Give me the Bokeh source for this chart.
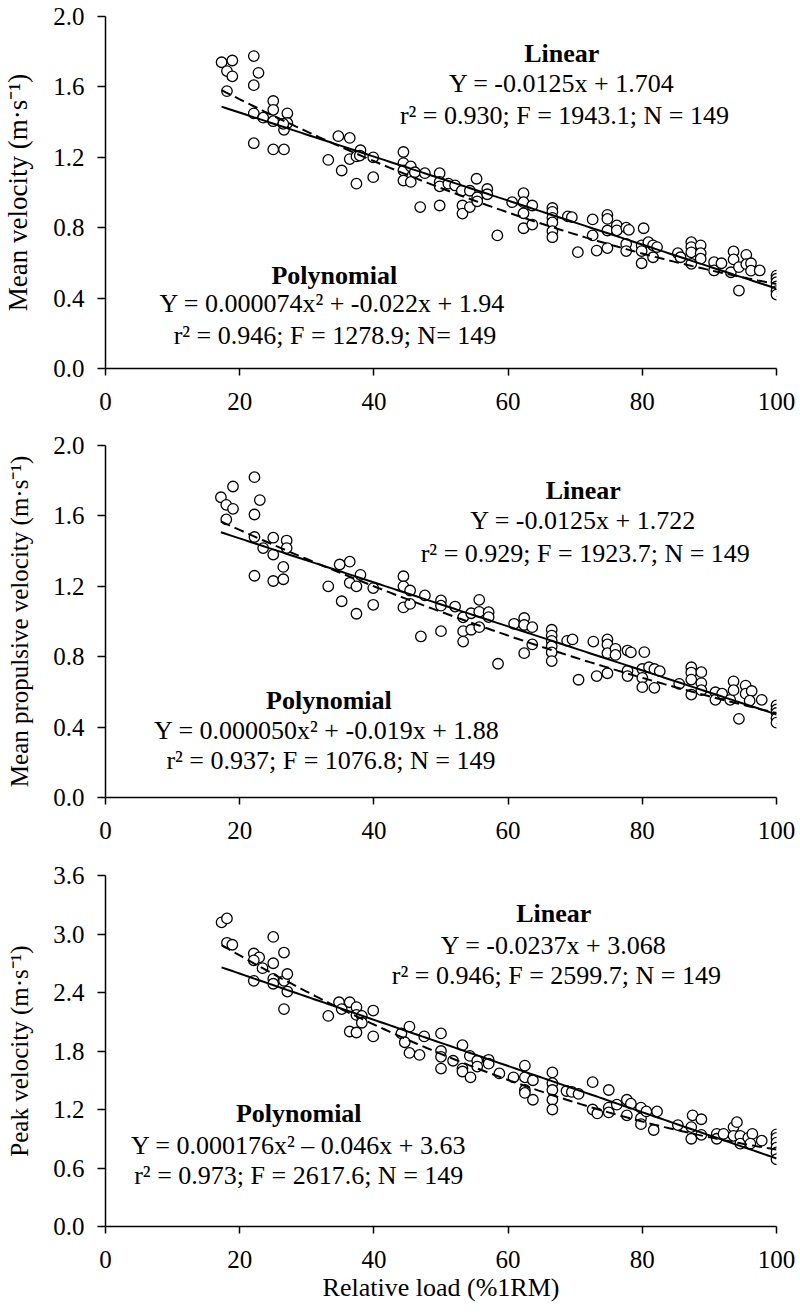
import numpy as np
from bokeh.plotting import figure
from bokeh.layouts import column
from bokeh.models import Range1d, FixedTicker, PrintfTickFormatter
from bokeh.core.properties import value
from bokeh.embed import file_html
from bokeh.resources import INLINE

FONT = "Liberation Serif"

# ---------------- data ----------------
x_ticks = [0, 20, 40, 60, 80, 100]

# Panel 1: mean velocity
mv_x = [17.3, 18.9, 18.1, 18.9, 22.1, 22.8, 22.1, 18.1, 25.0, 22.1, 23.5, 25.0, 25.0, 27.1, 27.1, 26.6, 26.5,
        22.1, 25.0, 26.6,
        33.2, 34.7, 36.4, 35.2, 36.4, 37.4, 37.4, 38.0, 37.9, 39.9, 39.9,
        44.4, 44.4, 44.4, 44.4, 45.5, 45.5, 46.1, 47.6, 46.9, 49.8, 49.8, 49.8, 49.8, 51.1, 52.1, 53.1, 53.2, 53.2,
        54.3, 54.3, 55.3, 55.4, 55.4, 56.9, 56.9, 58.4,
        60.6, 62.3, 62.3, 62.3, 63.6, 62.3, 63.6, 66.6, 66.6, 66.6, 66.6, 66.6, 66.6, 68.9, 69.5, 70.4, 72.6, 72.6,
        73.2, 74.8, 74.8, 74.8, 74.8, 76.2, 76.2, 77.6, 78.0, 77.6, 77.6, 80.2, 79.9, 79.9, 79.9, 80.9, 81.6, 81.6,
        82.2, 85.3, 85.7, 87.3, 87.3, 87.3, 87.3, 88.7, 88.7, 88.7, 90.7, 90.7, 91.8, 93.2, 93.6, 93.6, 94.4, 94.4,
        95.5, 95.5, 96.2, 96.2, 97.5, 100, 100, 100, 100, 100, 100]
mv_y = [1.74, 1.75, 1.69, 1.66, 1.775, 1.68, 1.61, 1.576, 1.52, 1.45, 1.425, 1.47, 1.405, 1.45, 1.395, 1.356, 1.39,
        1.28, 1.245, 1.245,
        1.185, 1.32, 1.31, 1.125, 1.19, 1.05, 1.205, 1.24, 1.21, 1.20, 1.087,
        1.23, 1.167, 1.125, 1.068, 1.06, 1.148, 1.115, 1.11, 0.917, 1.11, 1.06, 1.035, 0.926, 1.05, 1.04, 1.01, 0.926, 0.88,
        1.01, 0.917, 1.078, 0.973, 0.95, 1.02, 0.99, 0.756,
        0.945, 0.996, 0.945, 0.882, 0.926, 0.797, 0.818, 0.912, 0.89, 0.856, 0.83, 0.78, 0.746, 0.864, 0.86, 0.661, 0.847, 0.756,
        0.67, 0.873, 0.85, 0.784, 0.684, 0.813, 0.785, 0.80, 0.788, 0.708, 0.667, 0.797, 0.70, 0.667, 0.598, 0.718, 0.70, 0.632,
        0.69, 0.655, 0.632, 0.718, 0.69, 0.66, 0.595, 0.70, 0.655, 0.624, 0.604, 0.557, 0.598, 0.547, 0.665, 0.62, 0.576, 0.443,
        0.646, 0.593, 0.598, 0.556, 0.557, 0.528, 0.51, 0.49, 0.466, 0.44, 0.42]

# Panel 2: mean propulsive velocity
mpv_x = [17.2, 19.0, 18.0, 19.0, 18.0, 22.2, 23.0, 22.2, 22.2, 25.0, 27.0, 23.5, 25.0, 27.0, 26.5, 22.2, 25.0, 26.5,
         33.2, 34.9, 36.4, 35.2, 36.4, 37.4, 37.4, 38.0, 39.9, 39.9,
         44.4, 44.4, 44.4, 45.4, 45.4, 47.6, 47.0, 50.0, 50.0, 50.0, 52.1, 53.3, 53.3, 53.3, 54.5, 54.5, 55.7, 55.7,
         55.7, 57.1, 57.1, 58.5,
         60.9, 62.4, 62.4, 63.6, 62.4, 63.6, 66.5, 66.5, 66.5, 66.5, 66.5, 66.5, 68.8, 69.6, 70.5, 72.7, 73.2, 74.8,
         74.8, 74.8, 74.8, 76.0, 76.0, 77.8, 78.3, 77.8, 77.8, 80.3, 80.0, 80.0, 80.0, 81.0, 81.8, 81.8, 82.6, 85.5,
         87.3, 87.3, 87.3, 87.3, 88.8, 88.8, 88.8, 90.9, 90.9, 91.9, 93.1, 93.6, 93.6, 94.4, 95.4, 95.4, 96.3, 96.0,
         97.8, 100, 100, 100, 100, 100]
mpv_y = [1.706, 1.767, 1.663, 1.64, 1.58, 1.82, 1.69, 1.608, 1.48, 1.476, 1.46, 1.417, 1.38, 1.417, 1.31, 1.26, 1.23, 1.24,
         1.20, 1.324, 1.34, 1.115, 1.22, 1.20, 1.044, 1.265, 1.19, 1.095,
         1.257, 1.20, 1.08, 1.176, 1.10, 1.148, 0.915, 1.12, 1.09, 0.945, 1.085, 1.024, 0.945, 0.886, 1.047, 0.953, 1.123, 1.055,
         0.968, 1.053, 1.025, 0.76,
         0.987, 1.02, 0.98, 0.968, 0.82, 0.87, 0.953, 0.92, 0.89, 0.86, 0.825, 0.775, 0.89, 0.898, 0.669, 0.886, 0.69, 0.898,
         0.87, 0.82, 0.706, 0.845, 0.81, 0.835, 0.825, 0.72, 0.69, 0.826, 0.73, 0.68, 0.627, 0.74, 0.73, 0.623, 0.718, 0.646,
         0.74, 0.71, 0.67, 0.585, 0.712, 0.65, 0.61, 0.598, 0.555, 0.59, 0.555, 0.66, 0.61, 0.447, 0.636, 0.59, 0.605, 0.55,
         0.555, 0.523, 0.50, 0.48, 0.45, 0.425]

# Panel 3: peak velocity
pv_x = [17.3, 18.1, 18.1, 18.9, 25.0, 22.1, 22.9, 22.1, 23.4, 25.0, 26.6, 22.1, 25.0, 25.0, 26.6, 27.1, 27.1, 26.6,
        33.2, 34.8, 35.2, 36.4, 37.4, 37.4, 38.2, 38.2, 36.4, 37.4, 39.9, 39.9,
        44.1, 44.6, 45.3, 45.3, 46.8, 47.5, 50.0, 50.0, 50.0, 50.0, 51.8, 53.2, 53.2, 53.2, 54.4, 54.3, 55.4, 55.4,
        57.1, 57.1, 58.7,
        60.8, 62.5, 62.5, 62.5, 62.5, 63.7, 63.7, 66.6, 66.6, 66.6, 66.6, 66.6, 68.7, 69.5, 70.5, 72.6, 72.6, 73.3,
        75.0, 75.0, 75.0, 76.2, 77.7, 77.7, 78.3, 79.8, 79.8, 79.8, 80.6, 81.7, 82.2, 85.3, 87.5, 87.3, 87.3, 88.8,
        88.8, 91.1, 91.1, 92.1, 93.6, 94.1, 93.6, 94.6, 94.6, 95.8, 96.4, 96.1, 97.8, 100, 100, 100, 100, 100, 100]
pv_y = [3.12, 3.16, 2.91, 2.89, 2.97, 2.80, 2.76, 2.73, 2.65, 2.70, 2.81, 2.52, 2.54, 2.49, 2.52, 2.59, 2.41, 2.23,
        2.16, 2.30, 2.23, 2.30, 2.25, 2.17, 2.16, 2.09, 2.00, 1.99, 2.215, 1.95,
        1.98, 1.89, 2.05, 1.78, 1.76, 1.95, 1.98, 1.80, 1.74, 1.62, 1.70, 1.86, 1.62, 1.59, 1.53, 1.75, 1.70, 1.64,
        1.71, 1.67, 1.57,
        1.53, 1.65, 1.53, 1.40, 1.37, 1.50, 1.30, 1.58, 1.47, 1.40, 1.30, 1.20, 1.39, 1.38, 1.36, 1.48, 1.20, 1.16,
        1.40, 1.22, 1.17, 1.25, 1.30, 1.14, 1.26, 1.22, 1.11, 1.05, 1.18, 0.99, 1.18, 1.04, 1.14, 1.02, 0.90, 1.10,
        0.94, 0.95, 0.90, 0.95, 1.02, 1.07, 0.93, 0.93, 0.85, 0.91, 0.95, 0.85, 0.88, 0.945, 0.91, 0.86, 0.81, 0.76, 0.69]

# Fitted equations (coefficients shown on the chart)
mv_lin, mv_poly = (-0.0125, 1.704), (0.000074, -0.022, 1.94)
mpv_lin, mpv_poly = (-0.0125, 1.722), (0.000050, -0.019, 1.88)
pv_lin, pv_poly = (-0.0237, 3.068), (0.000176, -0.046, 3.63)

mv_texts = ["Linear", "Y = -0.0125x + 1.704", "r² = 0.930; F = 1943.1; N = 149",
            "Polynomial", "Y = 0.000074x² + -0.022x + 1.94", "r² = 0.946; F = 1278.9; N= 149"]
mpv_texts = ["Linear", "Y = -0.0125x + 1.722", "r² = 0.929; F = 1923.7; N = 149",
             "Polynomial", "Y = 0.000050x² + -0.019x + 1.88", "r² = 0.937; F = 1076.8; N = 149"]
pv_texts = ["Linear", "Y = -0.0237x + 3.068", "r² = 0.946; F = 2599.7; N = 149",
            "Polynomial", "Y = 0.000176x² – 0.046x + 3.63", "r² = 0.973; F = 2617.6; N = 149"]


def panel(xs, ys, lin, poly, texts, pos, ylabel, ylabel_size, ymax, ystep,
          top, bottom, fh, xlabel=None):
    p = figure(output_backend="svg", toolbar_location=None,
               frame_width=671, frame_height=fh,
               min_border_left=104, min_border_right=25,
               min_border_top=top, min_border_bottom=bottom,
               x_range=Range1d(0, 100), y_range=Range1d(0, ymax),
               background_fill_color="white", border_fill_color="white")
    p.outline_line_color = None
    p.grid.visible = False

    for ax in (p.xaxis[0], p.yaxis[0]):
        ax.axis_line_color = "black"
        ax.axis_line_width = 1.5
        ax.major_tick_line_color = "black"
        ax.major_tick_line_width = 1.5
        ax.major_tick_in = 0
        ax.minor_tick_line_color = None
        ax.major_label_text_font = FONT
        ax.major_label_text_font_size = "25px"
        ax.major_label_text_color = "black"
        ax.axis_label_text_font = FONT
        ax.axis_label_text_font_style = "normal"
        ax.axis_label_text_color = "black"

    p.xaxis.ticker = FixedTicker(ticks=x_ticks)
    p.xaxis.major_tick_out = 7
    p.xaxis.major_label_standoff = 17
    if xlabel:
        p.xaxis.axis_label = xlabel
        p.xaxis.axis_label_text_font_size = "26px"
        p.xaxis.axis_label_standoff = 2

    nt = int(round(ymax / ystep))
    p.yaxis.ticker = FixedTicker(ticks=[round(i * ystep, 2) for i in range(nt + 1)])
    p.yaxis.formatter = PrintfTickFormatter(format="%.1f")
    p.yaxis.major_tick_out = 8
    p.yaxis.major_label_standoff = 13
    p.yaxis.axis_label = ylabel
    p.yaxis.axis_label_text_font_size = ylabel_size
    p.yaxis.axis_label_standoff = 17

    p.scatter(xs, ys, marker="circle", size=10.5, fill_color="white",
              line_color="black", line_width=1.3)

    lx = np.linspace(min(xs), 100, 120)
    p.line(lx, lin[0] * lx + lin[1], line_color="black", line_width=2)
    p.line(lx, poly[0] * lx ** 2 + poly[1] * lx + poly[2], line_color="black",
           line_width=2, line_dash="10 5")

    for i, t in enumerate(texts):
        bold = i in (0, 3)
        p.text(x=[pos[i][0]], y=[pos[i][1]], text=[t],
               text_font=value(FONT), text_font_size="26px",
               text_font_style="bold" if bold else "normal",
               text_align="center", text_baseline="middle", text_color="black")
    return p


p1 = panel(mv_x, mv_y, mv_lin, mv_poly, mv_texts,
           [(68.0, 1.79), (68.0, 1.62), (68.4, 1.44), (34.1, 0.53), (33.8, 0.37), (34.2, 0.19)],
           "Mean velocity (m·s⁻¹)", "27px", 2.0, 0.4, top=16, bottom=57, fh=352)
p2 = panel(mpv_x, mpv_y, mpv_lin, mpv_poly, mpv_texts,
           [(71.2, 1.744), (71.2, 1.574), (71.5, 1.386), (33.3, 0.551), (33.0, 0.381), (33.6, 0.21)],
           "Mean propulsive velocity (m·s⁻¹)", "25px", 2.0, 0.4, top=20, bottom=58, fh=352)
p3 = panel(pv_x, pv_y, pv_lin, pv_poly, pv_texts,
           [(66.8, 3.21), (66.8, 2.88), (67.2, 2.57), (28.8, 1.16), (28.8, 0.83), (28.8, 0.52)],
           "Peak velocity (m·s⁻¹)", "25px", 3.6, 0.6, top=20, bottom=84, fh=351,
           xlabel="Relative load (%1RM)")

layout = column(p1, p2, p3, spacing=0)
open("out.html", "w").write(file_html(layout, INLINE))
